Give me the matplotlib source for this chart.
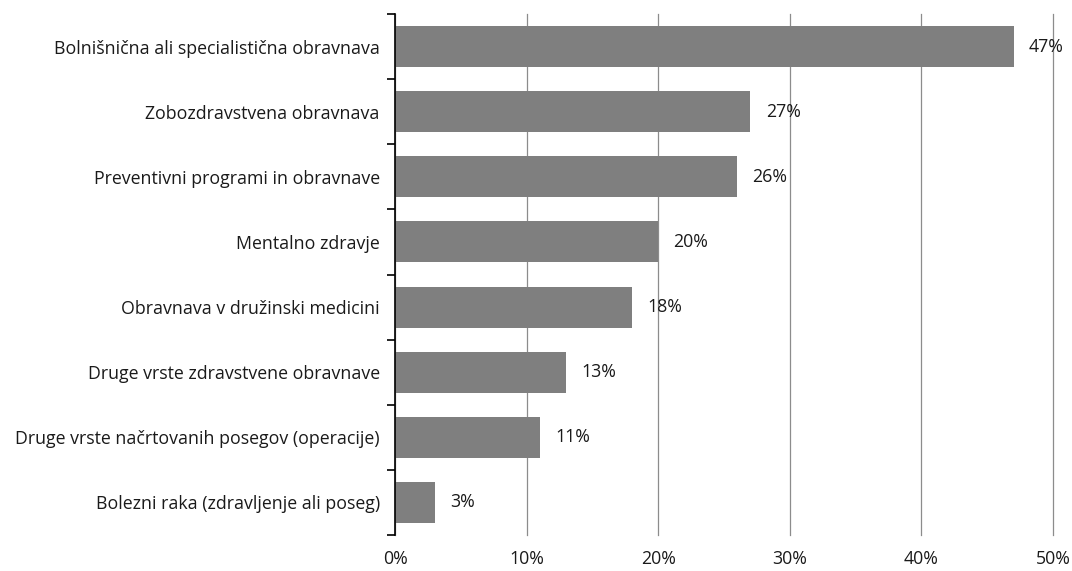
import numpy as np
import matplotlib.pyplot as plt
from matplotlib.ticker import FixedLocator

plt.rcParams['font.family'] = ['Open Sans', 'DejaVu Sans']

categories = ['Bolnišnična ali specialistična obravnava',
              'Zobozdravstvena obravnava',
              'Preventivni programi in obravnave',
              'Mentalno zdravje',
              'Obravnava v družinski medicini',
              'Druge vrste zdravstvene obravnave',
              'Druge vrste načrtovanih posegov (operacije)',
              'Bolezni raka (zdravljenje ali poseg)']
values = [47, 27, 26, 20, 18, 13, 11, 3]
x_ticks = [0, 10, 20, 30, 40, 50]

fs = 12.8
txt = '#1a1a1a'

fig = plt.figure(figsize=(10.72, 5.71), dpi=100)
ax = fig.add_axes([0.3685, 0.063, 0.6138, 0.9125])

y = np.arange(len(categories))
ax.barh(y, values, height=0.63, color='#7f7f7f', zorder=2)

for yi, v in zip(y, values):
    ax.annotate(f'{v}%', (v, yi), xytext=(11, 0), textcoords='offset points',
                va='center', ha='left', fontsize=fs, color=txt, zorder=3)

ax.set_xlim(0, 50)
ax.set_ylim(len(categories) - 0.5, -0.5)
ax.set_xticks(x_ticks)
ax.set_xticklabels([f'{t}%' for t in x_ticks], fontsize=fs, color=txt)
ax.tick_params(axis='x', length=0, pad=11)
ax.xaxis.grid(True, color='#8c8c8c', linewidth=0.9, zorder=0)
for gl in ax.get_xgridlines():
    gl.set_clip_on(False)

ax.set_yticks(y)
ax.set_yticklabels(categories, fontsize=fs, color=txt)
ax.tick_params(axis='y', which='major', length=0, pad=11)
ax.yaxis.set_minor_locator(FixedLocator(np.arange(-0.5, len(categories), 1)))
ax.tick_params(axis='y', which='minor', length=6, width=1.2, color='black')

for s in ['top', 'right', 'bottom']:
    ax.spines[s].set_visible(False)
ax.spines['left'].set_linewidth(1.2)
ax.spines['left'].set_zorder(4)

fig.savefig('out.png', dpi=100)
